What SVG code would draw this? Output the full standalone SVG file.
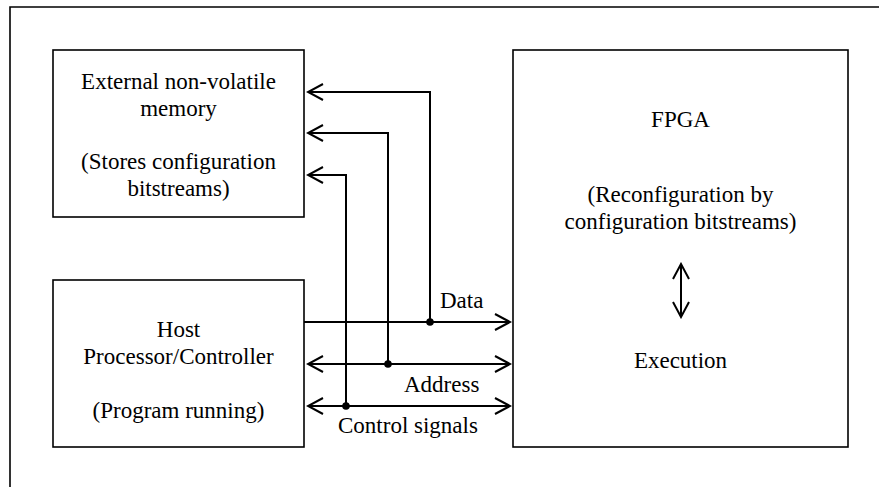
<svg xmlns="http://www.w3.org/2000/svg" width="879" height="487" viewBox="0 0 879 487">
  <style>
    .box { fill: #ffffff; stroke: #000000; stroke-width: 1.6; }
    .frame { fill: none; stroke: #000000; stroke-width: 1.6; }
    .wire { fill: none; stroke: #000000; stroke-width: 2; }
    .head { fill: none; stroke: #000000; stroke-width: 2; stroke-linejoin: miter; }
    .dot { fill: #000000; }
    .t { font-family: 'Liberation Serif', 'Times New Roman', Times, serif !important; font-size: 23px !important; fill: #000000; }
    .c { text-anchor: middle; }
  </style>
  <defs>
    <marker id="arrow" viewBox="0 0 18 18" refX="16" refY="9" markerWidth="18" markerHeight="18" markerUnits="userSpaceOnUse" orient="auto-start-reverse">
      <path class="head" d="M1 1 L16 9 L1 17"/>
    </marker>
  </defs>

  <rect width="879" height="487" fill="#ffffff"/>
  <!-- outer frame, open to the right and bottom -->
  <path class="frame" d="M10 500 V7 H900"/>

  <g id="memory">
    <rect class="box" x="53" y="50" width="251" height="167"/>
    <text class="t c" x="178.5" y="89" style="font-family:'Liberation Serif',serif;font-size:23px">External non-volatile</text>
    <text class="t c" x="178.5" y="116" style="font-family:'Liberation Serif',serif;font-size:23px">memory</text>
    <text class="t c" x="178.5" y="169" style="font-family:'Liberation Serif',serif;font-size:23px">(Stores configuration</text>
    <text class="t c" x="178.5" y="196" style="font-family:'Liberation Serif',serif;font-size:23px">bitstreams)</text>
  </g>

  <g id="host">
    <rect class="box" x="53" y="280" width="251" height="167"/>
    <text class="t c" x="178.5" y="337" style="font-family:'Liberation Serif',serif;font-size:23px">Host</text>
    <text class="t c" x="178.5" y="364" style="font-family:'Liberation Serif',serif;font-size:23px">Processor/Controller</text>
    <text class="t c" x="178.5" y="418" style="font-family:'Liberation Serif',serif;font-size:23px">(Program running)</text>
  </g>

  <g id="fpga">
    <rect class="box" x="513" y="50" width="335" height="397"/>
    <text class="t c" x="680.5" y="127" style="font-family:'Liberation Serif',serif;font-size:23px">FPGA</text>
    <text class="t c" x="680.5" y="202" style="font-family:'Liberation Serif',serif;font-size:23px">(Reconfiguration by</text>
    <text class="t c" x="680.5" y="229" style="font-family:'Liberation Serif',serif;font-size:23px">configuration bitstreams)</text>
    <text class="t c" x="680.5" y="368" style="font-family:'Liberation Serif',serif;font-size:23px">Execution</text>
    <line class="wire" x1="681" y1="264" x2="681" y2="317" marker-start="url(#arrow)" marker-end="url(#arrow)"/>
  </g>

  <g id="connectors">
    <!-- Data bus -->
    <line class="wire" x1="304" y1="322" x2="510" y2="322" marker-end="url(#arrow)"/>
    <path class="wire" d="M430 322 V92 H308" marker-end="url(#arrow)"/>
    <circle class="dot" cx="430" cy="322" r="3.8"/>
    <!-- Address bus -->
    <line class="wire" x1="308" y1="364" x2="510" y2="364" marker-start="url(#arrow)" marker-end="url(#arrow)"/>
    <path class="wire" d="M388 364 V133 H308" marker-end="url(#arrow)"/>
    <circle class="dot" cx="388" cy="364" r="3.8"/>
    <!-- Control signals -->
    <line class="wire" x1="308" y1="406" x2="510" y2="406" marker-start="url(#arrow)" marker-end="url(#arrow)"/>
    <path class="wire" d="M346 406 V175 H308" marker-end="url(#arrow)"/>
    <circle class="dot" cx="346" cy="406" r="3.8"/>

    <text class="t" x="440" y="308" style="font-family:'Liberation Serif',serif;font-size:23px">Data</text>
    <text class="t" x="404" y="392" style="font-family:'Liberation Serif',serif;font-size:23px">Address</text>
    <text class="t" x="338" y="433" style="font-family:'Liberation Serif',serif;font-size:23px">Control signals</text>
  </g>
</svg>
